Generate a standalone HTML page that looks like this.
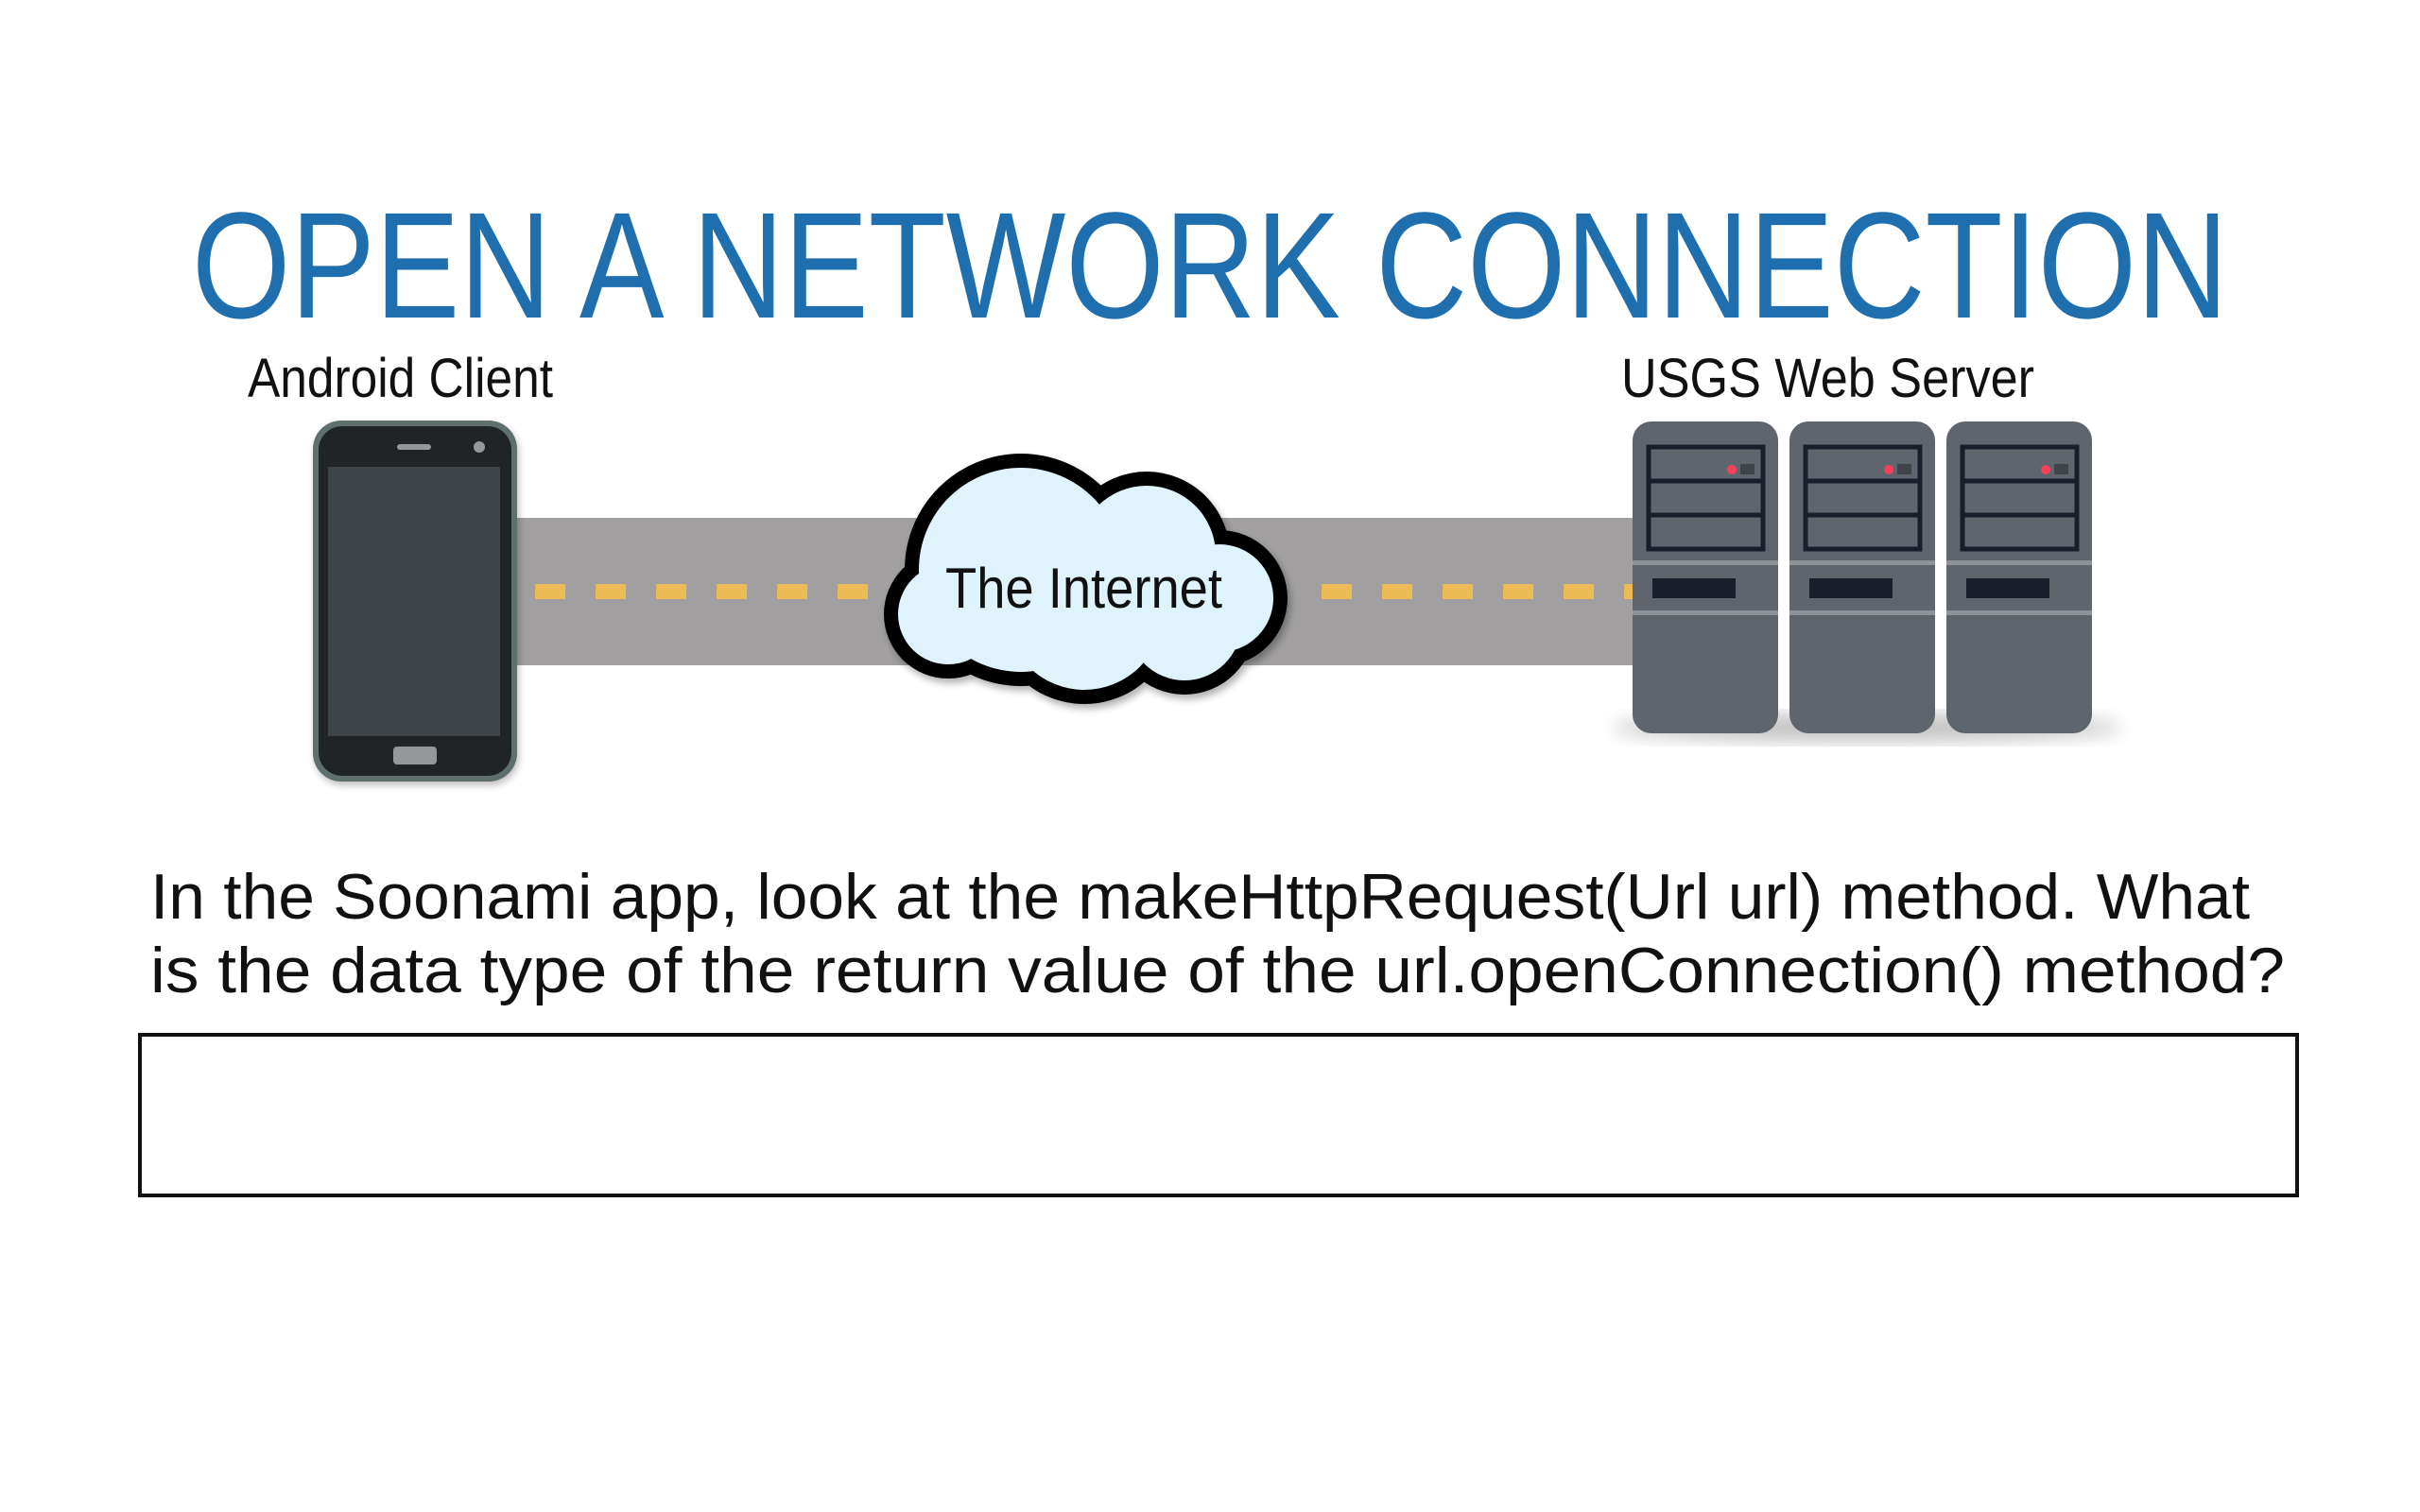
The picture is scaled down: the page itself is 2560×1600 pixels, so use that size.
<!DOCTYPE html>
<html><head><meta charset="utf-8"><style>
html,body{margin:0;padding:0;background:#fff;width:2560px;height:1600px;overflow:hidden}
svg{display:block}
text{font-family:"Liberation Sans",sans-serif}
</style></head><body>
<svg width="2560" height="1600" viewBox="0 0 2560 1600" xmlns="http://www.w3.org/2000/svg">
<defs>
<filter id="sh" x="-20%" y="-20%" width="140%" height="140%"><feGaussianBlur stdDeviation="10"/></filter>
<filter id="sh2" x="-20%" y="-20%" width="140%" height="140%"><feGaussianBlur stdDeviation="4"/></filter>
</defs>
<rect width="2560" height="1600" fill="#fff"/>
<text x="203" y="336" font-size="160" fill="#1f6fae" textLength="2154" lengthAdjust="spacingAndGlyphs">OPEN  A  NETWORK  CONNECTION</text>
<text x="262" y="420" font-size="58" fill="#111" textLength="323" lengthAdjust="spacingAndGlyphs">Android  Client</text>
<text x="1715" y="420" font-size="58" fill="#111" textLength="437" lengthAdjust="spacingAndGlyphs">USGS  Web  Server</text>
<rect x="540" y="548" width="1200" height="156" fill="#a19fa0"/>
<g fill="#ebbb55">
<rect x="566" y="618" width="32" height="16"/><rect x="630" y="618" width="32" height="16"/><rect x="694" y="618" width="32" height="16"/><rect x="758" y="618" width="32" height="16"/><rect x="822" y="618" width="32" height="16"/><rect x="886" y="618" width="32" height="16"/>
<rect x="1398" y="618" width="32" height="16"/><rect x="1462" y="618" width="32" height="16"/><rect x="1526" y="618" width="32" height="16"/><rect x="1590" y="618" width="32" height="16"/><rect x="1654" y="618" width="32" height="16"/><rect x="1718" y="618" width="20" height="16"/>
</g>
<rect x="333" y="449" width="216" height="382" rx="30" fill="#000" opacity="0.25" filter="url(#sh2)"/>
<rect x="331" y="445" width="216" height="382" rx="30" fill="#5f6f6d"/>
<rect x="337" y="451" width="204" height="370" rx="25" fill="#212427"/>
<rect x="347" y="494" width="182" height="285" fill="#3f4448"/>
<rect x="420" y="470" width="36" height="6" rx="3" fill="#95989a"/>
<circle cx="507" cy="473" r="6" fill="#95989a"/>
<rect x="416" y="790" width="46" height="19" rx="4" fill="#95989a"/>
<ellipse cx="1975" cy="770" rx="270" ry="14" fill="#000" opacity="0.25" filter="url(#sh)"/>
<g id="srv">
<rect x="1727" y="446" width="154" height="330" rx="20" fill="#5e656d"/>
<rect x="1744" y="473" width="121" height="108" fill="none" stroke="#191e2b" stroke-width="5"/>
<line x1="1744" y1="509" x2="1865" y2="509" stroke="#191e2b" stroke-width="5"/>
<line x1="1744" y1="545" x2="1865" y2="545" stroke="#191e2b" stroke-width="5"/>
<circle cx="1832" cy="497" r="5" fill="#f8405b"/>
<rect x="1841" y="491" width="15" height="11" fill="#3e4448"/>
<rect x="1727" y="593" width="154" height="5" fill="#8e9397"/>
<rect x="1727" y="646" width="154" height="5" fill="#8e9397"/>
<rect x="1748" y="612" width="88" height="21" fill="#191e2b"/>
</g>
<use href="#srv" x="166"/>
<use href="#srv" x="332"/>
<g fill="#000" opacity="0.3" filter="url(#sh2)" transform="translate(3,5)">
<circle cx="1080" cy="603" r="123"/><circle cx="1213" cy="587" r="88"/><circle cx="1290" cy="633" r="72"/><circle cx="1003" cy="650" r="68"/><circle cx="1147" cy="647" r="98"/><circle cx="1253" cy="660" r="75"/>
</g>
<g fill="#000">
<circle cx="1080" cy="603" r="123"/><circle cx="1213" cy="587" r="88"/><circle cx="1290" cy="633" r="72"/><circle cx="1003" cy="650" r="68"/><circle cx="1147" cy="647" r="98"/><circle cx="1253" cy="660" r="75"/>
</g>
<g fill="#dff3fd">
<circle cx="1080" cy="603" r="108"/><circle cx="1213" cy="587" r="73"/><circle cx="1290" cy="633" r="57"/><circle cx="1003" cy="650" r="53"/><circle cx="1147" cy="647" r="83"/><circle cx="1253" cy="660" r="60"/>
</g>
<text x="1000" y="643" font-size="60" fill="#111" textLength="293" lengthAdjust="spacingAndGlyphs">The  Internet</text>
<text x="159" y="972" font-size="68" fill="#111" textLength="2221" lengthAdjust="spacingAndGlyphs">In  the  Soonami  app,  look  at  the  makeHttpRequest(Url  url)  method.  What</text>
<text x="159" y="1050" font-size="68" fill="#111" textLength="2258" lengthAdjust="spacingAndGlyphs">is  the  data  type  of  the  return  value  of  the  url.openConnection()  method?</text>
<rect x="148" y="1095" width="2282" height="170" fill="none" stroke="#111" stroke-width="4"/>
</svg>
</body></html>
